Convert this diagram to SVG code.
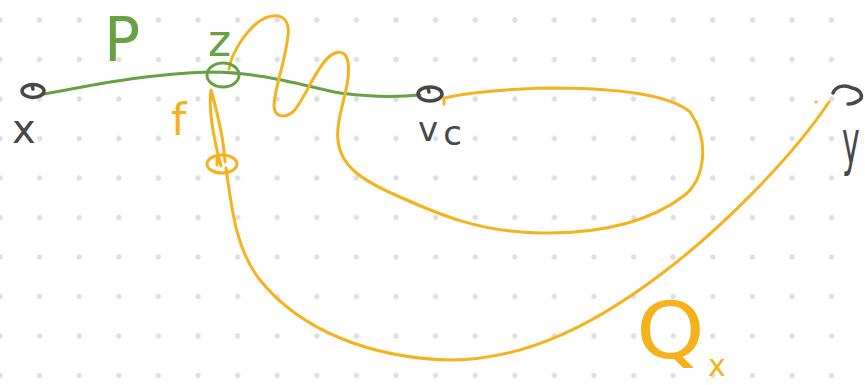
<svg xmlns="http://www.w3.org/2000/svg" width="865" height="385" viewBox="0 0 865 385">
<defs>
<pattern id="dots" x="0" y="20" width="39.6" height="39.5" patternUnits="userSpaceOnUse">
<circle cx="0" cy="0" r="2.6" fill="#dedede"/>
<circle cx="39.6" cy="0" r="2.6" fill="#dedede"/>
<circle cx="0" cy="39.5" r="2.6" fill="#dedede"/>
<circle cx="39.6" cy="39.5" r="2.6" fill="#dedede"/>
</pattern>
</defs>
<style>
.ink{fill:none;stroke-width:3;stroke-linecap:round;stroke-linejoin:round}
.g{stroke:#66a144}
.o{stroke:#f5b21c}
.k{stroke:#484848;stroke-width:3.5}
.t{font-family:"DejaVu Sans","Liberation Sans",sans-serif;font-weight:normal}
.tk{fill:#484848}
.tg{fill:#66a144}
.to{fill:#f5b21c}
</style>
<rect width="865" height="385" fill="#ffffff"/>
<rect width="865" height="385" fill="url(#dots)"/>

<g id="connectors">
<path id="P" class="ink g" d="M44,94 C 80,88 140,74 210,72 C 260,72 300,85 340,93 C 370,97 400,97 420,95"/>
<path id="walk-z-vc" class="ink o" d="M229,69 C 232,50 250,25 265,18 C 280,12 290,18 288,35 C 286,60 275,85 274,105 C 274,118 285,118 293,112 C 305,100 318,60 335,53 C 350,48 350,68 347,85 C 343,105 336,125 338,140 C 340,165 360,180 400,197 C 440,215 480,232 540,233 C 600,234 650,222 685,195 C 705,178 710,140 690,112 C 670,95 620,88 550,88 C 510,89 470,92 444,98 L444,104"/>
<path id="f-loop" class="ink o" d="M211,90 C 208,112 214,140 221,166 M211,90 C 218,115 224,140 225,162 M217,157 L217,165"/>
<ellipse id="f-end" class="ink o" cx="222" cy="164" rx="15" ry="9"/>
<path id="Q" class="ink o" d="M226,168 C 232,210 236,250 260,280 C 300,330 370,358 450,360 C 530,360 600,320 660,275 C 720,230 790,160 829,102"/>
<circle cx="816" cy="102" r="1.6" fill="#f5b21c"/>
</g>

<g id="node-x">
<ellipse class="ink k" cx="33" cy="91" rx="11" ry="6.5"/>
<path class="ink k" d="M32,85 L33,89"/>
<text class="t tk" x="12" y="143" font-size="40">x</text>
</g>

<g id="node-z">
<ellipse class="ink g" cx="223" cy="75" rx="16" ry="12"/>
<text class="t tg" x="208" y="56" font-size="44">z</text>
</g>

<g id="label-P">
<text class="t tg" x="104" y="61" font-size="60">P</text>
</g>

<g id="label-f">
<text class="t to" x="171" y="135" font-size="44">f</text>
</g>

<g id="node-vc">
<ellipse class="ink k" cx="430" cy="94" rx="12" ry="7"/>
<path class="ink k" d="M428,88 L429,92"/>
<text class="t tk" x="418" y="141" font-size="34">v<tspan font-size="34" dx="5" dy="4">c</tspan></text>
</g>

<g id="node-y">
<path class="ink k" d="M833,93 C 836,86 845,84 852,88 C 862,90 864,98 858,101 C 855,103 850,104 848,104"/>
<text class="t tk" transform="translate(842,163) scale(0.75,1.5)" x="0" y="0" font-size="40">y</text>
</g>

<g id="label-Q">
<text class="t to" transform="translate(636,358) scale(1.12,1)" x="0" y="0" font-size="78">Q</text>
<text class="t to" x="708" y="376" font-size="30">x</text>
</g>
</svg>
